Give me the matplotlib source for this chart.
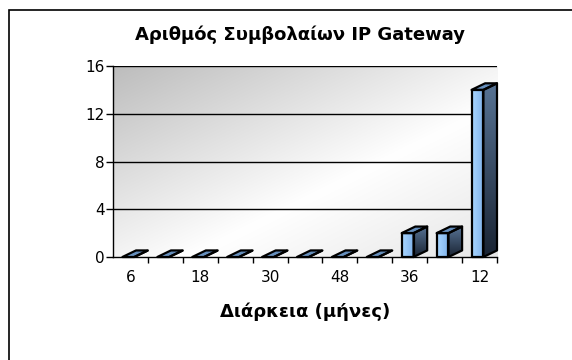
import matplotlib
matplotlib.use("Agg")
import matplotlib.pyplot as plt
import numpy as np
from matplotlib.patches import Polygon, Rectangle

# contract duration (months) and number of IP Gateway contracts
durations = ["6", "", "18", "", "30", "", "48", "", "36", "", "12"]
contracts = [0, 0, 0, 0, 0, 0, 0, 0, 2, 2, 14]
y_ticks = [0, 4, 8, 12, 16]

plt.rcParams["font.family"] = ["DejaVu Sans"]

fig = plt.figure(figsize=(5.72, 3.6), dpi=100)
ax = fig.add_axes([113 / 572, 1 - 257 / 360, 384 / 572, 191 / 360])

n = len(contracts)
ax.set_xlim(0, n)
ax.set_ylim(0, 16)

# diagonal grey-to-white wall
yy, xx = np.mgrid[0:1:200j, 0:1:300j]
t = (xx + yy) / 2
grey = np.interp(t, [0, 0.6, 1.0], [0.74, 1.0, 0.9])
wall = np.dstack([grey, grey, grey])
ax.imshow(wall, extent=[0, n, 0, 16], aspect="auto", zorder=0)

for y in y_ticks[1:]:
    ax.axhline(y, color="black", lw=1, zorder=1)

# 3D-looking bars
front_l, front_r = -0.23, 0.11
dx, dy = 0.39, 0.55


def shade(poly_xy, colors, horizontal):
    poly = Polygon(poly_xy, closed=True, facecolor="none", edgecolor="black",
                   lw=1.6, zorder=4, clip_on=False, joinstyle="round")
    ax.add_patch(poly)
    xs = [p[0] for p in poly_xy]
    ys = [p[1] for p in poly_xy]
    grad = np.linspace(0, 1, 64)
    c0, c1 = np.array(colors[0]), np.array(colors[1])
    img = c0[None, :] + (c1 - c0)[None, :] * grad[:, None]
    # rows run top to bottom for vertical shading
    img = img[None, :, :] if horizontal else img[:, None, :]
    im = ax.imshow(img, extent=[min(xs), max(xs), min(ys), max(ys)],
                   aspect="auto", zorder=3, interpolation="bilinear")
    im.set_clip_path(poly)
    im.set_clip_on(True)


for i, v in enumerate(contracts):
    c = i + 0.5
    l, r = c + front_l, c + front_r
    # side face
    shade([(r, 0), (r + dx, dy), (r + dx, v + dy), (r, v)],
          [(0.34, 0.45, 0.58), (0.10, 0.14, 0.20)], horizontal=False)
    # top face
    shade([(l, v), (r, v), (r + dx, v + dy), (l + dx, v + dy)],
          [(0.45, 0.62, 0.80), (0.35, 0.50, 0.68)], horizontal=True)
    # front face
    if v > 0:
        shade([(l, 0), (r, 0), (r, v), (l, v)],
              [(0.66, 0.84, 1.0), (0.50, 0.70, 0.92)], horizontal=True)

for s in ["top", "right"]:
    ax.spines[s].set_visible(False)
ax.spines["left"].set_linewidth(1)
ax.spines["bottom"].set_linewidth(1)
ax.spines["left"].set_zorder(5)
ax.spines["bottom"].set_zorder(5)

ax.set_yticks(y_ticks)
ax.tick_params(axis="y", length=5, width=1, labelsize=11, pad=1)

ax.set_xticks(np.arange(1, n + 1), minor=True)
ax.set_xticks([i + 0.5 for i in range(n) if durations[i]])
ax.set_xticklabels([d for d in durations if d])
ax.tick_params(axis="x", which="major", length=0, labelsize=11, pad=9)
ax.tick_params(axis="x", which="minor", length=4, width=1)

ax.set_xlabel("Διάρκεια (μήνες)", fontsize=13, fontweight="bold", labelpad=13)
fig.text(0.524, 1 - 35 / 360, "Αριθμός Συμβολαίων IP Gateway",
         ha="center", va="center", fontsize=13, fontweight="bold")

# chart border
fig.add_artist(Rectangle((9 / 572, -0.1), 1.1, 1 - 10 / 360 + 0.1,
                         transform=fig.transFigure, fill=False,
                         edgecolor="black", lw=1.2))

fig.savefig("out.png", dpi=100)
